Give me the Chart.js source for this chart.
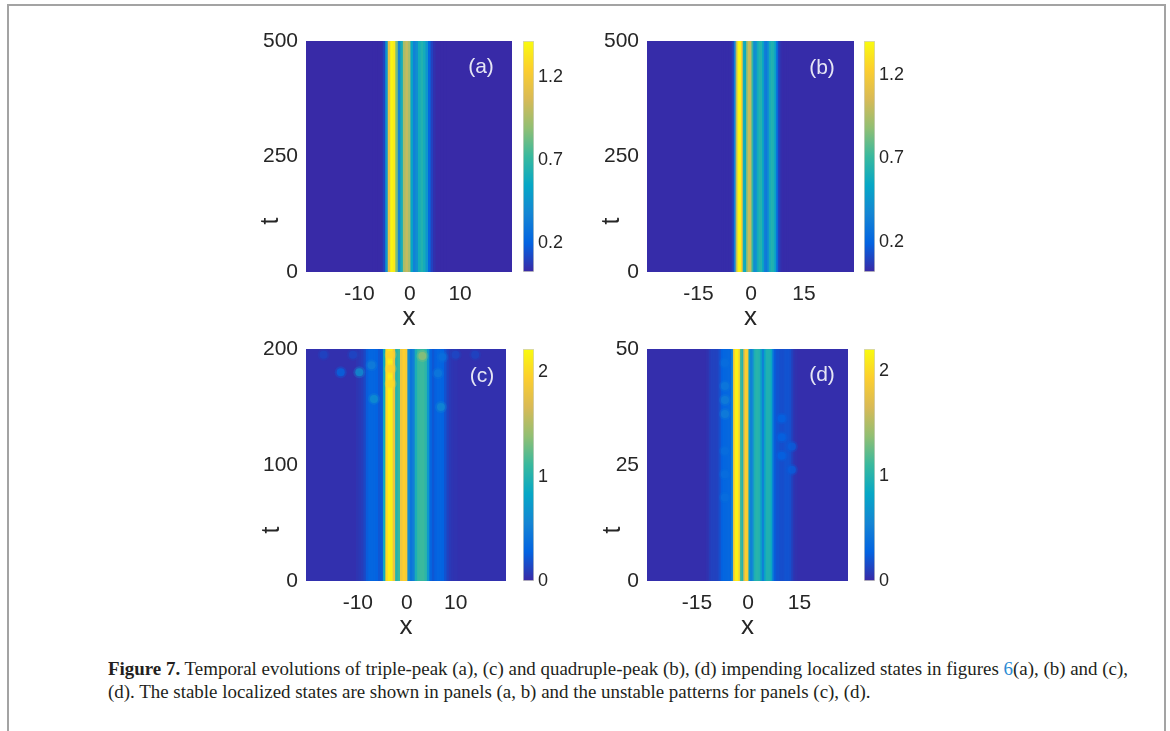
<!DOCTYPE html>
<html>
<head>
<meta charset="utf-8">
<script src="https://cdn.jsdelivr.net/npm/chart.js@4.4.1/dist/chart.umd.min.js"></script>
<style>
  html, body { margin: 0; padding: 0; background: #fff; }
  body { width: 1170px; height: 731px; position: relative; overflow: hidden; font-family: "Liberation Sans", Arial, sans-serif; }
  .frame { position: absolute; left: 7px; top: 4px; width: 1155px; height: 760px; border: 2px solid #a3a3a3; border-bottom: none; }
  canvas { position: absolute; }
  .tag { position: absolute; color: #e6e6f4; font-size: 21px; transform: translate(-50%, -50%); }
  .tlab { position: absolute; color: #262626; font-size: 25px; transform: translate(-50%, -50%) rotate(-90deg); }
  .cap { position: absolute; left: 108px; font-family: "Liberation Serif", serif; font-size: 18px; line-height: 20px; color: #231f20; white-space: nowrap; transform-origin: 0 0; }
  .cap .lnk { color: #2b8ad3; }
</style>
</head>
<body>
<div class="frame"></div>

<canvas id="ha" width="266" height="313" style="left:246px;top:20px"></canvas>
<canvas id="ca" width="51" height="262" style="left:523px;top:20px"></canvas>
<canvas id="hb" width="267" height="313" style="left:587px;top:20px"></canvas>
<canvas id="cb" width="51" height="262" style="left:864px;top:20px"></canvas>
<canvas id="hc" width="266" height="314" style="left:246px;top:328px"></canvas>
<canvas id="cc" width="51" height="263" style="left:523px;top:328px"></canvas>
<canvas id="hd" width="267" height="314" style="left:587px;top:328px"></canvas>
<canvas id="cd" width="51" height="263" style="left:864px;top:328px"></canvas>

<div class="tag" style="left:481px;top:66px">(a)</div>
<div class="tag" style="left:822px;top:67px">(b)</div>
<div class="tag" style="left:482px;top:375px">(c)</div>
<div class="tag" style="left:822px;top:374px">(d)</div>

<div class="tlab" style="left:269px;top:221px">t</div>
<div class="tlab" style="left:610px;top:221px">t</div>
<div class="tlab" style="left:270px;top:530px">t</div>
<div class="tlab" style="left:611px;top:530px">t</div>

<div class="cap" id="cap1" style="top:659px"><b>Figure 7.</b> Temporal evolutions of triple-peak (a), (c) and quadruple-peak (b), (d) impending localized states in figures <span class="lnk">6</span>(a), (b) and (c),</div>
<div class="cap" id="cap2" style="top:682px">(d). The stable localized states are shown in panels (a, b) and the unstable patterns for panels (c), (d).</div>

<script>
// (a) triple-peak, stable: amplitude across x (constant in t)
const xA = [-7, -6.5, -6, -5.5, -5, -4.5, -4, -3.5, -3, -2.5, -2, -1.5, -1, -0.5, 0, 0.5, 1, 1.5, 2, 2.5, 3, 3.5, 4, 4.5, 5, 5.5, 6, 6.5, 7];
const vA = [0.03, 0.03, 0.03, 0.04, 0.1, 0.45, 1.15, 1.4, 1.35, 0.85, 0.38, 0.6, 0.95, 1.02, 0.95, 0.55, 0.35, 0.42, 0.6, 0.65, 0.6, 0.45, 0.22, 0.1, 0.05, 0.03, 0.03, 0.03, 0.03];
const baseA = 0.03;

// (b) quadruple-peak, stable
const xB = [-8, -7.5, -7, -6.5, -6, -5.5, -5, -4.5, -4, -3.5, -3, -2.5, -2, -1.5, -1, -0.5, 0, 0.5, 1, 1.5, 2, 2.5, 3, 3.5, 4, 4.5, 5, 5.5, 6, 6.5, 7, 7.5, 8, 8.5, 9, 9.5, 10, 10.5, 11];
const vB = [0.03, 0.03, 0.03, 0.03, 0.03, 0.05, 0.1, 0.35, 1.0, 1.38, 1.4, 1.2, 0.6, 0.55, 0.9, 1.02, 1.0, 0.7, 0.4, 0.42, 0.58, 0.65, 0.65, 0.55, 0.33, 0.3, 0.42, 0.6, 0.64, 0.62, 0.5, 0.25, 0.1, 0.05, 0.03, 0.03, 0.03, 0.03, 0.03];
const baseB = 0.03;

// (c) triple-peak, unstable
const xC = [-10, -9.5, -9, -8.5, -8, -7.5, -7, -6.5, -6, -5.5, -5, -4.5, -4, -3.5, -3, -2.5, -2, -1.5, -1, -0.5, 0, 0.5, 1, 1.5, 2, 2.5, 3, 3.5, 4, 4.5, 5, 5.5, 6, 6.5, 7, 7.5, 8, 8.5, 9, 9.5, 10];
const vC = [0.06, 0.08, 0.1, 0.15, 0.25, 0.3, 0.3, 0.3, 0.28, 0.22, 0.25, 0.9, 2.0, 2.15, 2.15, 1.8, 1.0, 1.1, 1.85, 1.95, 1.9, 0.6, 0.42, 0.5, 0.95, 1.1, 1.12, 1.12, 1.05, 0.7, 0.3, 0.22, 0.27, 0.3, 0.3, 0.28, 0.2, 0.12, 0.08, 0.06, 0.05];
const baseC = 0.04;
// bright patches that appear once the state breaks up (upper part of the panel)
const blobXC = [-9.7, -7.2, -6.7, -13.5, 7, 6.4, 7.3, 3.2, -3.3, -3.3, -3.3, -17, -11, 10, 14];
const blobTC = [180, 186, 157, 180, 150, 179, 193, 194, 195, 183, 170, 195, 195, 195, 195];
const blobVC = [0.65, 0.5, 0.65, 0.3, 0.6, 0.45, 0.38, 1.4, 1.95, 1.95, 2.0, 0.14, 0.15, 0.15, 0.14];

// (d) quadruple-peak, unstable
const xD = [-12, -11.5, -11, -10.5, -10, -9.5, -9, -8.5, -8, -7.5, -7, -6.5, -6, -5.5, -5, -4.5, -4, -3.5, -3, -2.5, -2, -1.5, -1, -0.5, 0, 0.5, 1, 1.5, 2, 2.5, 3, 3.5, 4, 4.5, 5, 5.5, 6, 6.5, 7, 7.5, 8, 8.5, 9, 9.5, 10, 10.5, 11, 11.5, 12, 12.5, 13, 13.5, 14];
const vD = [0.04, 0.06, 0.1, 0.12, 0.12, 0.12, 0.12, 0.15, 0.2, 0.27, 0.3, 0.3, 0.32, 0.32, 0.32, 0.55, 1.9, 2.15, 2.15, 2.0, 1.15, 1.0, 1.7, 1.95, 1.9, 0.75, 0.5, 0.6, 0.95, 1.02, 1.02, 0.98, 0.75, 0.5, 0.8, 0.97, 0.98, 0.97, 0.85, 0.4, 0.25, 0.2, 0.2, 0.18, 0.18, 0.18, 0.2, 0.2, 0.2, 0.18, 0.12, 0.07, 0.04];
const baseD = 0.03;
const blobXD = [-6.8, -6.8, -6.8, -6.8, -6.8, -6.8, 9.8, 9.8, 9.8, 12.8, 12.8, -6.8];
const blobTD = [36, 39, 42, 18, 23, 28, 27, 31, 35, 24, 29, 47];
const blobVD = [0.5, 0.5, 0.45, 0.36, 0.36, 0.36, 0.28, 0.28, 0.28, 0.25, 0.25, 0.36];

// axes
const xTicksAC = [-10, 0, 10];
const xTicksBD = [-15, 0, 15];
const tTicksAB = [0, 250, 500];
const tTicksC = [0, 100, 200];
const tTicksD = [0, 25, 50];
const cbTicksAB = [0.2, 0.7, 1.2];
const cbTicksCD = [0, 1, 2];

// parula-like colour map
const PARULA = [[58, 40, 165], [3, 99, 225], [20, 133, 212], [6, 167, 198], [56, 185, 158], [146, 191, 115], [217, 186, 86], [252, 206, 46], [249, 251, 14]];

function cmap(v, lo, hi, a) {
  let s = Math.min(1, Math.max(0, (v - lo) / (hi - lo))) * (PARULA.length - 1);
  const i = Math.min(PARULA.length - 2, Math.floor(s));
  const f = s - i;
  const c = PARULA[i].map((c0, k) => Math.round(c0 + (PARULA[i + 1][k] - c0) * f));
  return a == null ? `rgb(${c})` : `rgba(${c},${a})`;
}

const FONT = "'Liberation Sans', Arial, sans-serif";
const INK = '#262626';

const areaFill = {
  id: 'areaFill',
  beforeDatasetsDraw(chart, args, opts) {
    if (!opts.color) return;
    const { ctx, chartArea: a } = chart;
    ctx.save();
    ctx.fillStyle = opts.color;
    ctx.fillRect(a.left, a.top, a.width, a.height);
    ctx.restore();
  }
};

const noPad = s => { s.paddingTop = 0; s.paddingBottom = 0; };

function heatmap(id, p) {
  const datasets = [{
    type: 'bar',
    order: 3,
    data: p.xs.map(x => ({ x, y: [0, p.tMax] })),
    backgroundColor: p.vs.map(v => cmap(v, p.cb[0], p.cb[1])),
    borderWidth: 0,
    grouped: false,
    barPercentage: 1,
    categoryPercentage: 1,
    inflateAmount: 0.6
  }];
  if (p.blobX) {
    const pts = p.blobX.map((x, i) => ({ x, y: p.blobT[i] }));
    // soft halo + core for each patch, drawn over the columns
    [[p.r + 2, 0.3, 2], [p.r, 0.75, 1]].forEach(([r, alpha, order]) => {
      datasets.push({
        type: 'scatter',
        order,
        data: pts,
        pointBackgroundColor: p.blobV.map(v => cmap(v, p.cb[0], p.cb[1], alpha)),
        pointBorderWidth: 0,
        pointRadius: r,
        clip: 0
      });
    });
  }
  new Chart(document.getElementById(id), {
    type: 'bar',
    data: { datasets },
    options: {
      responsive: false,
      animation: false,
      layout: { padding: { top: 21, left: 0, right: 0, bottom: 0 } },
      plugins: {
        legend: { display: false },
        tooltip: { enabled: false },
        areaFill: { color: cmap(p.base, p.cb[0], p.cb[1]) }
      },
      scales: {
        x: {
          type: 'linear', min: p.xMin, max: p.xMax, offset: false,
          grid: { display: false, drawTicks: false }, border: { display: false },
          afterBuildTicks: s => { s.ticks = p.xTicks.map(value => ({ value })); },
          afterFit: s => { s.height = 61; },
          ticks: { font: { size: 21, family: FONT }, color: INK, padding: 10, maxRotation: 0, autoSkip: false, callback: v => String(v) },
          title: { display: true, text: 'x', font: { size: 26, family: FONT }, color: INK, padding: 0 }
        },
        y: {
          type: 'linear', min: 0, max: p.tMax,
          grid: { display: false, drawTicks: false }, border: { display: false },
          afterBuildTicks: s => { s.ticks = p.tTicks.map(value => ({ value })); },
          afterFit: s => { s.width = 60; noPad(s); },
          ticks: { font: { size: 21, family: FONT }, color: INK, padding: 8, autoSkip: false, callback: v => String(v) }
        }
      }
    },
    plugins: [areaFill]
  });
}

function colorbar(id, lo, hi, ticks) {
  new Chart(document.getElementById(id), {
    type: 'bar',
    data: {
      labels: [''],
      datasets: [{
        data: [[lo, hi]],
        backgroundColor: ctx => {
          const a = ctx.chart.chartArea;
          if (!a) return `rgb(${PARULA[0]})`;
          const g = ctx.chart.ctx.createLinearGradient(0, a.bottom, 0, a.top);
          PARULA.forEach((c, i) => g.addColorStop(i / (PARULA.length - 1), `rgb(${c})`));
          return g;
        },
        borderColor: '#d2d2c6',
        borderWidth: 1,
        borderSkipped: false,
        barPercentage: 1,
        categoryPercentage: 1
      }]
    },
    options: {
      responsive: false,
      animation: false,
      layout: { padding: { top: 21, bottom: 10, left: 0, right: 0 } },
      plugins: { legend: { display: false }, tooltip: { enabled: false } },
      scales: {
        x: { display: false },
        y: {
          position: 'right', min: lo, max: hi,
          grid: { display: false, drawTicks: false }, border: { display: false },
          afterBuildTicks: s => { s.ticks = ticks.map(value => ({ value })); },
          afterFit: s => { s.width = 40; noPad(s); },
          ticks: { font: { size: 18, family: FONT }, color: INK, padding: 4, autoSkip: false, callback: v => String(v) }
        }
      }
    }
  });
}

heatmap('ha', { xs: xA, vs: vA, base: baseA, tMax: 500, cb: [0.024, 1.419], xMin: -20.6, xMax: 20.3, xTicks: xTicksAC, tTicks: tTicksAB });
heatmap('hb', { xs: xB, vs: vB, base: baseB, tMax: 500, cb: [0.018, 1.404], xMin: -29.6, xMax: 29.2, xTicks: xTicksBD, tTicks: tTicksAB });
heatmap('hc', { xs: xC, vs: vC, base: baseC, tMax: 200, cb: [0, 2.225], xMin: -20.6, xMax: 20.3, xTicks: xTicksAC, tTicks: tTicksC, blobX: blobXC, blobT: blobTC, blobV: blobVC, r: 4 });
heatmap('hd', { xs: xD, vs: vD, base: baseD, tMax: 50, cb: [0, 2.213], xMin: -29.6, xMax: 29.2, xTicks: xTicksBD, tTicks: tTicksD, blobX: blobXD, blobT: blobTD, blobV: blobVD, r: 4 });

colorbar('ca', 0.024, 1.419, cbTicksAB);
colorbar('cb', 0.018, 1.404, cbTicksAB);
colorbar('cc', 0, 2.225, cbTicksCD);
colorbar('cd', 0, 2.213, cbTicksCD);

// squeeze the caption to the width of the original typesetting
const c1 = document.getElementById('cap1');
const k = 1020 / c1.getBoundingClientRect().width;
c1.style.transform = `scaleX(${k})`;
document.getElementById('cap2').style.transform = `scaleX(${k})`;
</script>
</body>
</html>
